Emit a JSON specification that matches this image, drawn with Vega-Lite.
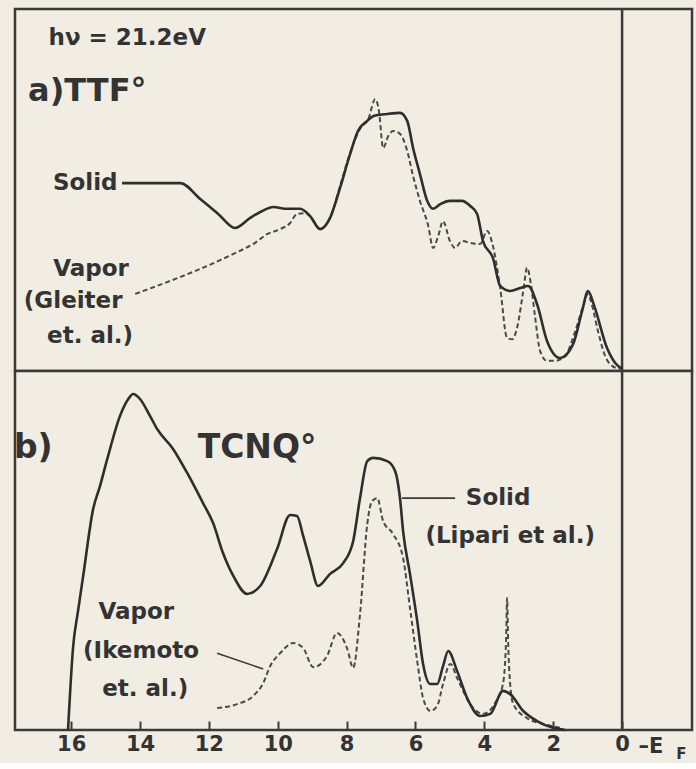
{
  "$schema": "https://vega.github.io/schema/vega-lite/v6.json",
  "background": "#f1ede3",
  "padding": {"left": 12, "top": 6, "right": 4, "bottom": 0},
  "spacing": 0,
  "bounds": "flush",
  "config": {
    "view": {"stroke": "#3a3a3a", "strokeWidth": 2.5, "fill": "#f1ede3"},
    "text": {"font": "DejaVu Sans", "fontWeight": "bold", "color": "#333333"}
  },
  "datasets": {
    "ttf": [
      {"E":14.52,"I":51.9,"s":"Solid"},{"E":12.83,"I":51.9,"s":"Solid"},{"E":12.25,"I":47.5,"s":"Solid"},{"E":11.73,"I":43.4,"s":"Solid"},{"E":11.24,"I":39.5,"s":"Solid"},{"E":10.80,"I":42.3,"s":"Solid"},{"E":10.45,"I":44.2,"s":"Solid"},{"E":10.13,"I":45.3,"s":"Solid"},{"E":9.73,"I":44.8,"s":"Solid"},{"E":9.35,"I":44.8,"s":"Solid"},{"E":9.06,"I":42.8,"s":"Solid"},{"E":8.77,"I":39.2,"s":"Solid"},{"E":8.48,"I":42.3,"s":"Solid"},{"E":8.19,"I":50.6,"s":"Solid"},{"E":7.90,"I":59.9,"s":"Solid"},{"E":7.67,"I":66.3,"s":"Solid"},{"E":7.40,"I":69.1,"s":"Solid"},{"E":7.23,"I":70.4,"s":"Solid"},{"E":6.82,"I":71.0,"s":"Solid"},{"E":6.45,"I":71.3,"s":"Solid"},{"E":6.24,"I":69.1,"s":"Solid"},{"E":6.07,"I":61.6,"s":"Solid"},{"E":5.87,"I":54.4,"s":"Solid"},{"E":5.66,"I":47.0,"s":"Solid"},{"E":5.49,"I":44.8,"s":"Solid"},{"E":5.28,"I":46.1,"s":"Solid"},{"E":5.0,"I":47.0,"s":"Solid"},{"E":4.65,"I":47.0,"s":"Solid"},{"E":4.41,"I":45.6,"s":"Solid"},{"E":4.21,"I":43.4,"s":"Solid"},{"E":4.04,"I":35.9,"s":"Solid"},{"E":3.75,"I":31.2,"s":"Solid"},{"E":3.54,"I":23.5,"s":"Solid"},{"E":3.25,"I":22.1,"s":"Solid"},{"E":2.96,"I":22.9,"s":"Solid"},{"E":2.73,"I":23.5,"s":"Solid"},{"E":2.47,"I":18.5,"s":"Solid"},{"E":2.18,"I":8.3,"s":"Solid"},{"E":1.80,"I":3.6,"s":"Solid"},{"E":1.42,"I":7.5,"s":"Solid"},{"E":1.16,"I":16.6,"s":"Solid"},{"E":0.99,"I":22.1,"s":"Solid"},{"E":0.81,"I":18.0,"s":"Solid"},{"E":0.44,"I":6.4,"s":"Solid"},{"E":0.2,"I":2.2,"s":"Solid"},{"E":0.0,"I":0.6,"s":"Solid"},
      {"E":14.14,"I":21.3,"s":"Vapor"},{"E":13.12,"I":24.9,"s":"Vapor"},{"E":12.25,"I":28.2,"s":"Vapor"},{"E":11.30,"I":32.3,"s":"Vapor"},{"E":10.66,"I":35.4,"s":"Vapor"},{"E":10.31,"I":37.8,"s":"Vapor"},{"E":9.93,"I":39.2,"s":"Vapor"},{"E":9.64,"I":40.9,"s":"Vapor"},{"E":9.44,"I":43.4,"s":"Vapor"},{"E":9.20,"I":43.6,"s":"Vapor"},{"E":9.0,"I":42.0,"s":"Vapor"},{"E":8.77,"I":39.2,"s":"Vapor"},{"E":8.48,"I":42.3,"s":"Vapor"},{"E":8.19,"I":51.1,"s":"Vapor"},{"E":7.90,"I":60.2,"s":"Vapor"},{"E":7.61,"I":66.9,"s":"Vapor"},{"E":7.37,"I":69.6,"s":"Vapor"},{"E":7.17,"I":75.1,"s":"Vapor"},{"E":7.06,"I":71.8,"s":"Vapor"},{"E":6.94,"I":61.6,"s":"Vapor"},{"E":6.79,"I":64.9,"s":"Vapor"},{"E":6.65,"I":66.3,"s":"Vapor"},{"E":6.45,"I":65.5,"s":"Vapor"},{"E":6.24,"I":60.8,"s":"Vapor"},{"E":6.07,"I":53.9,"s":"Vapor"},{"E":5.87,"I":47.0,"s":"Vapor"},{"E":5.63,"I":40.1,"s":"Vapor"},{"E":5.49,"I":34.0,"s":"Vapor"},{"E":5.34,"I":37.3,"s":"Vapor"},{"E":5.20,"I":41.4,"s":"Vapor"},{"E":5.0,"I":35.9,"s":"Vapor"},{"E":4.85,"I":34.0,"s":"Vapor"},{"E":4.65,"I":35.9,"s":"Vapor"},{"E":4.41,"I":35.4,"s":"Vapor"},{"E":4.12,"I":35.1,"s":"Vapor"},{"E":3.92,"I":38.7,"s":"Vapor"},{"E":3.75,"I":34.5,"s":"Vapor"},{"E":3.54,"I":22.9,"s":"Vapor"},{"E":3.34,"I":9.1,"s":"Vapor"},{"E":3.19,"I":8.8,"s":"Vapor"},{"E":3.05,"I":11.9,"s":"Vapor"},{"E":2.87,"I":22.1,"s":"Vapor"},{"E":2.76,"I":28.5,"s":"Vapor"},{"E":2.64,"I":23.5,"s":"Vapor"},{"E":2.53,"I":15.2,"s":"Vapor"},{"E":2.38,"I":5.5,"s":"Vapor"},{"E":2.18,"I":2.8,"s":"Vapor"},{"E":1.95,"I":2.8,"s":"Vapor"},{"E":1.66,"I":4.1,"s":"Vapor"},{"E":1.36,"I":11.0,"s":"Vapor"},{"E":1.13,"I":18.0,"s":"Vapor"},{"E":0.99,"I":21.3,"s":"Vapor"},{"E":0.87,"I":18.0,"s":"Vapor"},{"E":0.70,"I":11.0,"s":"Vapor"},{"E":0.49,"I":4.1,"s":"Vapor"},{"E":0.29,"I":1.4,"s":"Vapor"},{"E":0.06,"I":0.6,"s":"Vapor"}
    ],
    "tcnq": [
      {"E":16.09,"I":0,"s":"Solid"},{"E":15.94,"I":23.4,"s":"Solid"},{"E":15.80,"I":33.1,"s":"Solid"},{"E":15.65,"I":42.9,"s":"Solid"},{"E":15.36,"I":61.6,"s":"Solid"},{"E":15.16,"I":68.0,"s":"Solid"},{"E":14.95,"I":75.5,"s":"Solid"},{"E":14.58,"I":87.5,"s":"Solid"},{"E":14.34,"I":92.2,"s":"Solid"},{"E":14.20,"I":93.6,"s":"Solid"},{"E":14.0,"I":92.2,"s":"Solid"},{"E":13.71,"I":87.5,"s":"Solid"},{"E":13.50,"I":83.8,"s":"Solid"},{"E":13.04,"I":78.3,"s":"Solid"},{"E":12.63,"I":71.6,"s":"Solid"},{"E":12.17,"I":63.2,"s":"Solid"},{"E":11.88,"I":57.7,"s":"Solid"},{"E":11.59,"I":49.3,"s":"Solid"},{"E":11.29,"I":42.9,"s":"Solid"},{"E":10.89,"I":37.9,"s":"Solid"},{"E":10.51,"I":40.1,"s":"Solid"},{"E":10.02,"I":50.4,"s":"Solid"},{"E":9.64,"I":59.9,"s":"Solid"},{"E":9.44,"I":59.6,"s":"Solid"},{"E":9.26,"I":54.0,"s":"Solid"},{"E":9.06,"I":47.1,"s":"Solid"},{"E":8.83,"I":40.1,"s":"Solid"},{"E":8.48,"I":43.5,"s":"Solid"},{"E":8.10,"I":46.5,"s":"Solid"},{"E":7.81,"I":52.6,"s":"Solid"},{"E":7.61,"I":64.6,"s":"Solid"},{"E":7.40,"I":74.9,"s":"Solid"},{"E":7.23,"I":75.8,"s":"Solid"},{"E":6.82,"I":74.9,"s":"Solid"},{"E":6.59,"I":72.1,"s":"Solid"},{"E":6.45,"I":64.6,"s":"Solid"},{"E":6.36,"I":55.4,"s":"Solid"},{"E":6.16,"I":43.5,"s":"Solid"},{"E":5.95,"I":30.4,"s":"Solid"},{"E":5.78,"I":18.4,"s":"Solid"},{"E":5.57,"I":12.8,"s":"Solid"},{"E":5.37,"I":12.8,"s":"Solid"},{"E":5.20,"I":17.8,"s":"Solid"},{"E":5.05,"I":22.0,"s":"Solid"},{"E":4.79,"I":16.4,"s":"Solid"},{"E":4.50,"I":8.9,"s":"Solid"},{"E":4.12,"I":3.9,"s":"Solid"},{"E":3.83,"I":4.5,"s":"Solid"},{"E":3.46,"I":10.9,"s":"Solid"},{"E":3.25,"I":10.0,"s":"Solid"},{"E":2.87,"I":5.3,"s":"Solid"},{"E":2.47,"I":2.5,"s":"Solid"},{"E":2.0,"I":0.6,"s":"Solid"},{"E":1.66,"I":0,"s":"Solid"},
      {"E":11.76,"I":6.1,"s":"Vapor"},{"E":11.18,"I":7.2,"s":"Vapor"},{"E":10.71,"I":9.5,"s":"Vapor"},{"E":10.42,"I":13.1,"s":"Vapor"},{"E":10.22,"I":17.8,"s":"Vapor"},{"E":9.93,"I":21.4,"s":"Vapor"},{"E":9.55,"I":24.2,"s":"Vapor"},{"E":9.26,"I":22.8,"s":"Vapor"},{"E":8.97,"I":17.5,"s":"Vapor"},{"E":8.57,"I":20.6,"s":"Vapor"},{"E":8.28,"I":27.0,"s":"Vapor"},{"E":7.98,"I":22.6,"s":"Vapor"},{"E":7.81,"I":17.3,"s":"Vapor"},{"E":7.61,"I":32.3,"s":"Vapor"},{"E":7.40,"I":57.4,"s":"Vapor"},{"E":7.26,"I":63.8,"s":"Vapor"},{"E":7.11,"I":64.6,"s":"Vapor"},{"E":6.94,"I":58.2,"s":"Vapor"},{"E":6.65,"I":54.6,"s":"Vapor"},{"E":6.36,"I":47.9,"s":"Vapor"},{"E":6.16,"I":34.0,"s":"Vapor"},{"E":5.95,"I":19.2,"s":"Vapor"},{"E":5.78,"I":8.9,"s":"Vapor"},{"E":5.57,"I":5.3,"s":"Vapor"},{"E":5.37,"I":6.7,"s":"Vapor"},{"E":5.20,"I":12.8,"s":"Vapor"},{"E":4.99,"I":18.4,"s":"Vapor"},{"E":4.79,"I":14.5,"s":"Vapor"},{"E":4.41,"I":7.2,"s":"Vapor"},{"E":4.04,"I":4.5,"s":"Vapor"},{"E":3.69,"I":7.5,"s":"Vapor"},{"E":3.46,"I":12.8,"s":"Vapor"},{"E":3.37,"I":24.8,"s":"Vapor"},{"E":3.34,"I":36.8,"s":"Vapor"},{"E":3.31,"I":24.8,"s":"Vapor"},{"E":3.25,"I":12.8,"s":"Vapor"},{"E":3.16,"I":7.2,"s":"Vapor"},{"E":2.76,"I":3.3,"s":"Vapor"},{"E":2.29,"I":1.7,"s":"Vapor"},{"E":1.80,"I":0.6,"s":"Vapor"}
    ],
    "leaders": [
      {"E":6.39,"I":64.6,"g":"solid"},{"E":4.85,"I":64.6,"g":"solid"},
      {"E":11.76,"I":21.4,"g":"vapor"},{"E":10.42,"I":17.0,"g":"vapor"}
    ],
    "toptext": [
      {"t":"hν = 21.2eV","E":14.37,"I":92.0,"k":"head"},
      {"t":"a)TTF°","E":15.53,"I":77.3,"k":"big"},
      {"t":"Solid","E":15.59,"I":51.9,"k":"lab"},
      {"t":"Vapor","E":15.42,"I":28.2,"k":"lab"},
      {"t":"(Gleiter","E":15.94,"I":19.3,"k":"lab"},
      {"t":"et. al.)","E":15.45,"I":9.7,"k":"lab"}
    ],
    "bottext": [
      {"t":"b)","E":17.10,"I":78.6,"k":"big"},
      {"t":"TCNQ°","E":10.60,"I":78.6,"k":"big"},
      {"t":"Vapor","E":14.11,"I":32.9,"k":"lab"},
      {"t":"(Ikemoto","E":13.97,"I":22.0,"k":"lab"},
      {"t":"et. al.)","E":13.85,"I":11.4,"k":"lab"},
      {"t":"Solid","E":3.60,"I":64.6,"k":"lab"},
      {"t":"(Lipari et al.)","E":3.25,"I":54.0,"k":"lab"},
      {"t":"–E","E":-0.84,"I":-4.6,"k":"axis"},
      {"t":"F","E":-1.72,"I":-6.6,"k":"sub"}
    ],
    "zero": [{"E":0}]
  },
  "vconcat": [
    {
      "width": 677,
      "height": 362,
      "layer": [
        {
          "data": {"name": "zero"},
          "mark": {"type": "rule", "color": "#3a3a3a", "strokeWidth": 2.5},
          "encoding": {"x": {"field": "E", "type": "quantitative", "scale": {"domain": [-2.03, 17.63], "reverse": true, "nice": false, "zero": false}, "axis": null}}
        },
        {
          "data": {"name": "ttf"},
          "transform": [{"filter": "datum.s == 'Vapor'"}],
          "mark": {"type": "line", "color": "#4a4a4a", "strokeWidth": 2, "strokeDash": [5, 3], "interpolate": "monotone"},
          "encoding": {
            "x": {"field": "E", "type": "quantitative", "axis": null},
            "y": {"field": "I", "type": "quantitative", "scale": {"domain": [0, 100], "nice": false}, "axis": null}
          }
        },
        {
          "data": {"name": "ttf"},
          "transform": [{"filter": "datum.s == 'Solid'"}],
          "mark": {"type": "line", "color": "#2e2e2e", "strokeWidth": 2.6, "interpolate": "monotone"},
          "encoding": {
            "x": {"field": "E", "type": "quantitative", "axis": null},
            "y": {"field": "I", "type": "quantitative", "axis": null}
          }
        },
        {
          "data": {"name": "toptext"},
          "transform": [{"filter": "datum.k == 'head'"}],
          "mark": {"type": "text", "fontSize": 23, "align": "center", "baseline": "middle"},
          "encoding": {
            "x": {"field": "E", "type": "quantitative", "axis": null},
            "y": {"field": "I", "type": "quantitative", "axis": null},
            "text": {"field": "t"}
          }
        },
        {
          "data": {"name": "toptext"},
          "transform": [{"filter": "datum.k == 'big'"}],
          "mark": {"type": "text", "fontSize": 32, "align": "center", "baseline": "middle"},
          "encoding": {
            "x": {"field": "E", "type": "quantitative", "axis": null},
            "y": {"field": "I", "type": "quantitative", "axis": null},
            "text": {"field": "t"}
          }
        },
        {
          "data": {"name": "toptext"},
          "transform": [{"filter": "datum.k == 'lab'"}],
          "mark": {"type": "text", "fontSize": 23, "align": "center", "baseline": "middle"},
          "encoding": {
            "x": {"field": "E", "type": "quantitative", "axis": null},
            "y": {"field": "I", "type": "quantitative", "axis": null},
            "text": {"field": "t"}
          }
        }
      ]
    },
    {
      "width": 677,
      "height": 359,
      "layer": [
        {
          "data": {"name": "zero"},
          "mark": {"type": "rule", "color": "#3a3a3a", "strokeWidth": 2.5},
          "encoding": {"x": {"field": "E", "type": "quantitative", "scale": {"domain": [-2.03, 17.63], "reverse": true, "nice": false, "zero": false},
            "axis": {"values": [16, 14, 12, 10, 8, 6, 4, 2, 0], "title": null, "grid": false, "domain": false, "tickSize": -9, "tickWidth": 2, "tickColor": "#3a3a3a", "labelFont": "DejaVu Sans", "labelFontWeight": "bold", "labelFontSize": 21, "labelColor": "#333333", "labelPadding": 12, "labelFlush": false, "labelOverlap": false}}}
        },
        {
          "data": {"name": "leaders"},
          "mark": {"type": "line", "color": "#3a3a3a", "strokeWidth": 1.6},
          "encoding": {
            "x": {"field": "E", "type": "quantitative"},
            "y": {"field": "I", "type": "quantitative", "scale": {"domain": [0, 100], "nice": false}, "axis": null},
            "detail": {"field": "g"}
          }
        },
        {
          "data": {"name": "tcnq"},
          "transform": [{"filter": "datum.s == 'Vapor'"}],
          "mark": {"type": "line", "color": "#4a4a4a", "strokeWidth": 2, "strokeDash": [5, 3], "interpolate": "monotone"},
          "encoding": {
            "x": {"field": "E", "type": "quantitative"},
            "y": {"field": "I", "type": "quantitative", "axis": null}
          }
        },
        {
          "data": {"name": "tcnq"},
          "transform": [{"filter": "datum.s == 'Solid'"}],
          "mark": {"type": "line", "color": "#2e2e2e", "strokeWidth": 2.6, "interpolate": "monotone"},
          "encoding": {
            "x": {"field": "E", "type": "quantitative"},
            "y": {"field": "I", "type": "quantitative", "axis": null}
          }
        },
        {
          "data": {"name": "bottext"},
          "transform": [{"filter": "datum.k == 'big'"}],
          "mark": {"type": "text", "fontSize": 33, "align": "center", "baseline": "middle"},
          "encoding": {
            "x": {"field": "E", "type": "quantitative"},
            "y": {"field": "I", "type": "quantitative", "axis": null},
            "text": {"field": "t"}
          }
        },
        {
          "data": {"name": "bottext"},
          "transform": [{"filter": "datum.k == 'lab'"}],
          "mark": {"type": "text", "fontSize": 23, "align": "center", "baseline": "middle"},
          "encoding": {
            "x": {"field": "E", "type": "quantitative"},
            "y": {"field": "I", "type": "quantitative", "axis": null},
            "text": {"field": "t"}
          }
        },
        {
          "data": {"name": "bottext"},
          "transform": [{"filter": "datum.k == 'axis'"}],
          "mark": {"type": "text", "fontSize": 21, "align": "center", "baseline": "middle"},
          "encoding": {
            "x": {"field": "E", "type": "quantitative"},
            "y": {"field": "I", "type": "quantitative", "axis": null},
            "text": {"field": "t"}
          }
        },
        {
          "data": {"name": "bottext"},
          "transform": [{"filter": "datum.k == 'sub'"}],
          "mark": {"type": "text", "fontSize": 15, "align": "center", "baseline": "middle"},
          "encoding": {
            "x": {"field": "E", "type": "quantitative"},
            "y": {"field": "I", "type": "quantitative", "axis": null},
            "text": {"field": "t"}
          }
        }
      ]
    }
  ]
}
